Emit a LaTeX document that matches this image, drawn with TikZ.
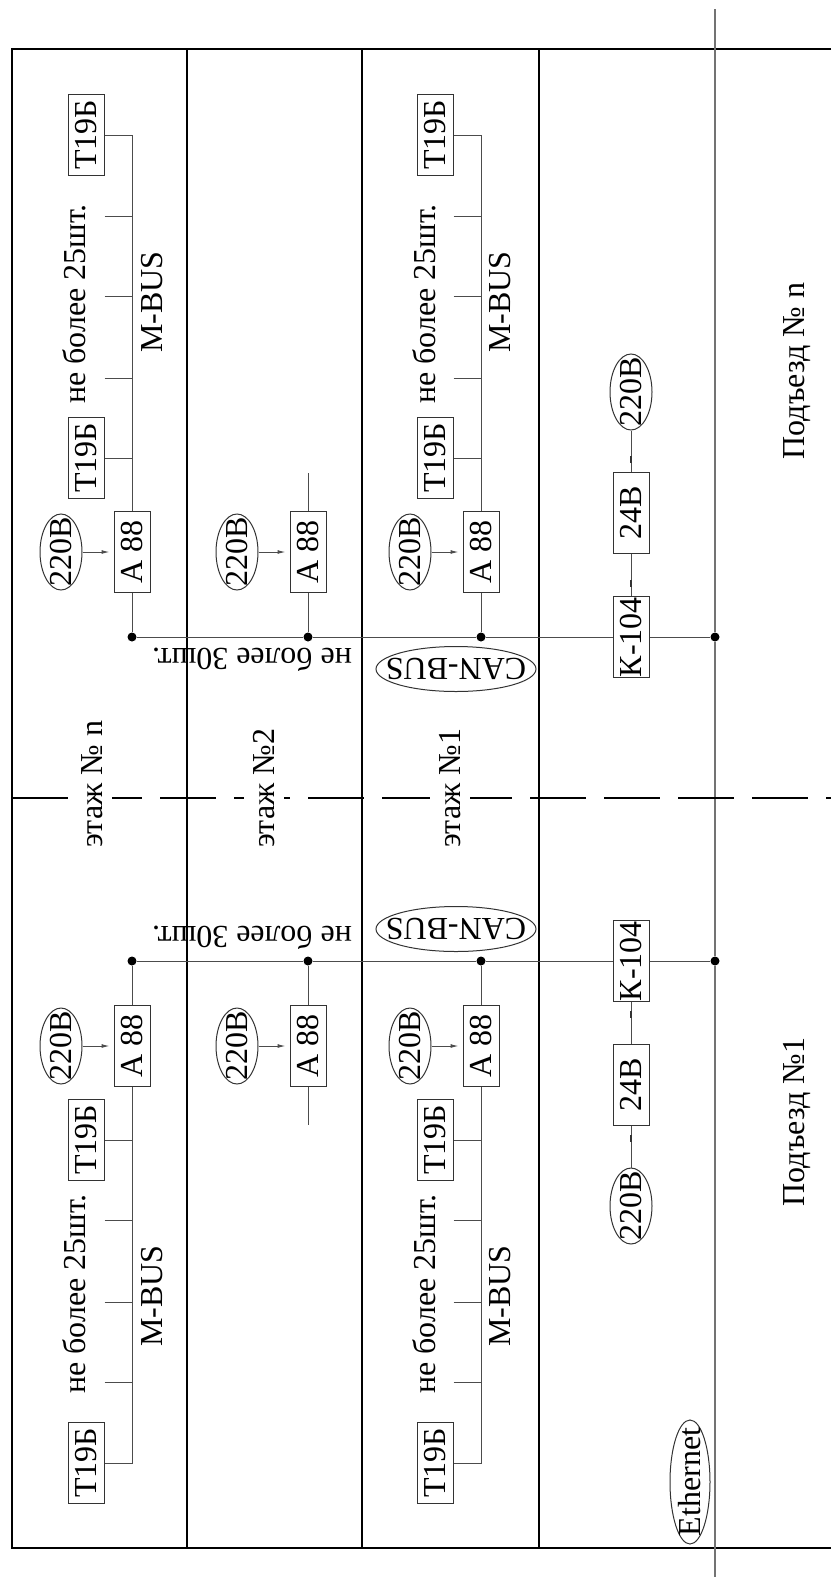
\documentclass[tikz,border=0pt]{standalone}
\usepackage{fontspec}
\setmainfont{Liberation Serif}
\usetikzlibrary{arrows.meta,shapes.geometric}
\newcommand{\ovaltext}[1]{\makebox[0pt]{#1}}

\tikzset{
  unit/.style={draw=black!80,line width=1pt,rotate=90,minimum width=81pt,minimum height=36pt,inner sep=0pt},
  volt/.style={ellipse,draw=black!80,line width=1pt,rotate=90,inner sep=0pt,minimum width=76pt,minimum height=42pt},
  joint/.style={circle,fill,inner sep=0pt,minimum size=9pt},
  bus/.style={draw=black!70,line width=1pt},
  feed/.style={bus,-{Latex[length=8pt,width=4pt]},shorten >=4pt},
  nick/.style={fill=black!80,inner sep=0pt,minimum width=2.5pt,minimum height=7pt},
  frame/.style={line width=2pt},
  ether/.style={draw=black!55,line width=1.8pt},
  storey/.style={rotate=90,fill=white,inner xsep=2pt,inner ysep=9pt,anchor=west},
  entrance/.pic={
    % этаж n
    \node[unit] (ta1) at (86,135) {T19Б};
    \node[unit] (tb1) at (86,458) {T19Б};
    \node[unit] (a1) at (132,552) {А 88};
    \node[volt] (v1) at (61,552) {\ovaltext{220В}};
    \node[joint] (d1) at (132,637) {};
    \node[rotate=90] (cnt1) at (74,304) {не более 25шт.};
    \node[rotate=90] (mb1) at (152,302) {M-BUS};
    \draw[bus] (ta1) -| (a1);
    \draw[bus] (tb1) -- (tb1 -| a1);
    \foreach \y in {216,296,378}
      \draw[bus] (ta1.south |- 0,\y) -- (a1 |- 0,\y);
    \draw[bus] (a1) -- (d1);
    \draw[feed] (v1) -- (a1);
    % этаж 2
    \node[unit] (a2) at (308,552) {А 88};
    \node[volt] (v2) at (237,552) {\ovaltext{220В}};
    \node[joint] (d2) at (308,637) {};
    \coordinate (s2) at (308,473);
    \draw[bus] (a2) -- (s2);
    \draw[bus] (a2) -- (d2);
    \draw[feed] (v2) -- (a2);
    % этаж 1
    \node[unit] (ta3) at (435,135) {T19Б};
    \node[unit] (tb3) at (435,458) {T19Б};
    \node[unit] (a3) at (481,552) {А 88};
    \node[volt] (v3) at (410,552) {\ovaltext{220В}};
    \node[joint] (d3) at (481,637) {};
    \node[rotate=90] (cnt3) at (424,304) {не более 25шт.};
    \node[rotate=90] (mb3) at (500,302) {M-BUS};
    \draw[bus] (ta3) -| (a3);
    \draw[bus] (tb3) -- (tb3 -| a3);
    \foreach \y in {216,296,378}
      \draw[bus] (ta3.south |- 0,\y) -- (a3 |- 0,\y);
    \draw[bus] (a3) -- (d3);
    \draw[feed] (v3) -- (a3);
    % контроллер
    \node[unit] (k) at (631,637) {К-104};
    \node[unit] (b) at (631,513) {24В};
    \node[volt] (v4) at (631,392) {\ovaltext{220В}};
    \node[joint] (eth) at (715,637) {};
    \draw[bus] (k) -- node[nick,pos=0.3]{} (b);
    \draw[bus] (b) -- node[nick,pos=0.3]{} (v4);
    % CAN-BUS
    \draw[bus] (d1) -- (d2) -- (d3) -- (k) -- (eth);
    \node[rotate=180] (cnt) at (252,660) {не более 30шт.};
    \node[ellipse,draw=black!80,line width=1pt,rotate=180,inner sep=0pt,
          minimum width=160pt,minimum height=45pt] (can) at (456,669) {\ovaltext{CAN-BUS}};
  }
}

\begin{document}
\begin{tikzpicture}[x=1pt,y=-1pt,every node/.style={font=\fontsize{32}{38}\selectfont}]
  \useasboundingbox[fill=white] (0,0) rectangle (831,1577);

  \draw[frame] (831,49) -- (12,49) -- (12,1548) -- (831,1548);
  \foreach \x in {187,362,539}
    \draw[frame] (\x,49) -- (\x,1548);

  \pic (pn) at (0,0) {entrance};
  \pic[yscale=-1] (p1) at (0,1598) {entrance};

  \coordinate (etop) at (715,9);
  \coordinate (ebot) at (715,1577);
  \draw[ether] (etop) -- (pneth) -- (p1eth) -- (ebot);
  \node[volt,minimum width=124pt,minimum height=40pt] (ethnet) at (690,1482) {\ovaltext{Ethernet}};

  \draw[frame,dash pattern=on 56pt off 18pt] (12,798) -- (831,798);
  \node[storey] (fn) at (92,850) {этаж № n};
  \node[storey] (f2) at (264,850) {этаж №2};
  \node[storey] (f1) at (450,850) {этаж №1};

  \node[rotate=90] (podn) at (797,371) {Подъезд № n};
  \node[rotate=90] (pod1) at (797,1122) {Подъезд №1};
\end{tikzpicture}
\end{document}
